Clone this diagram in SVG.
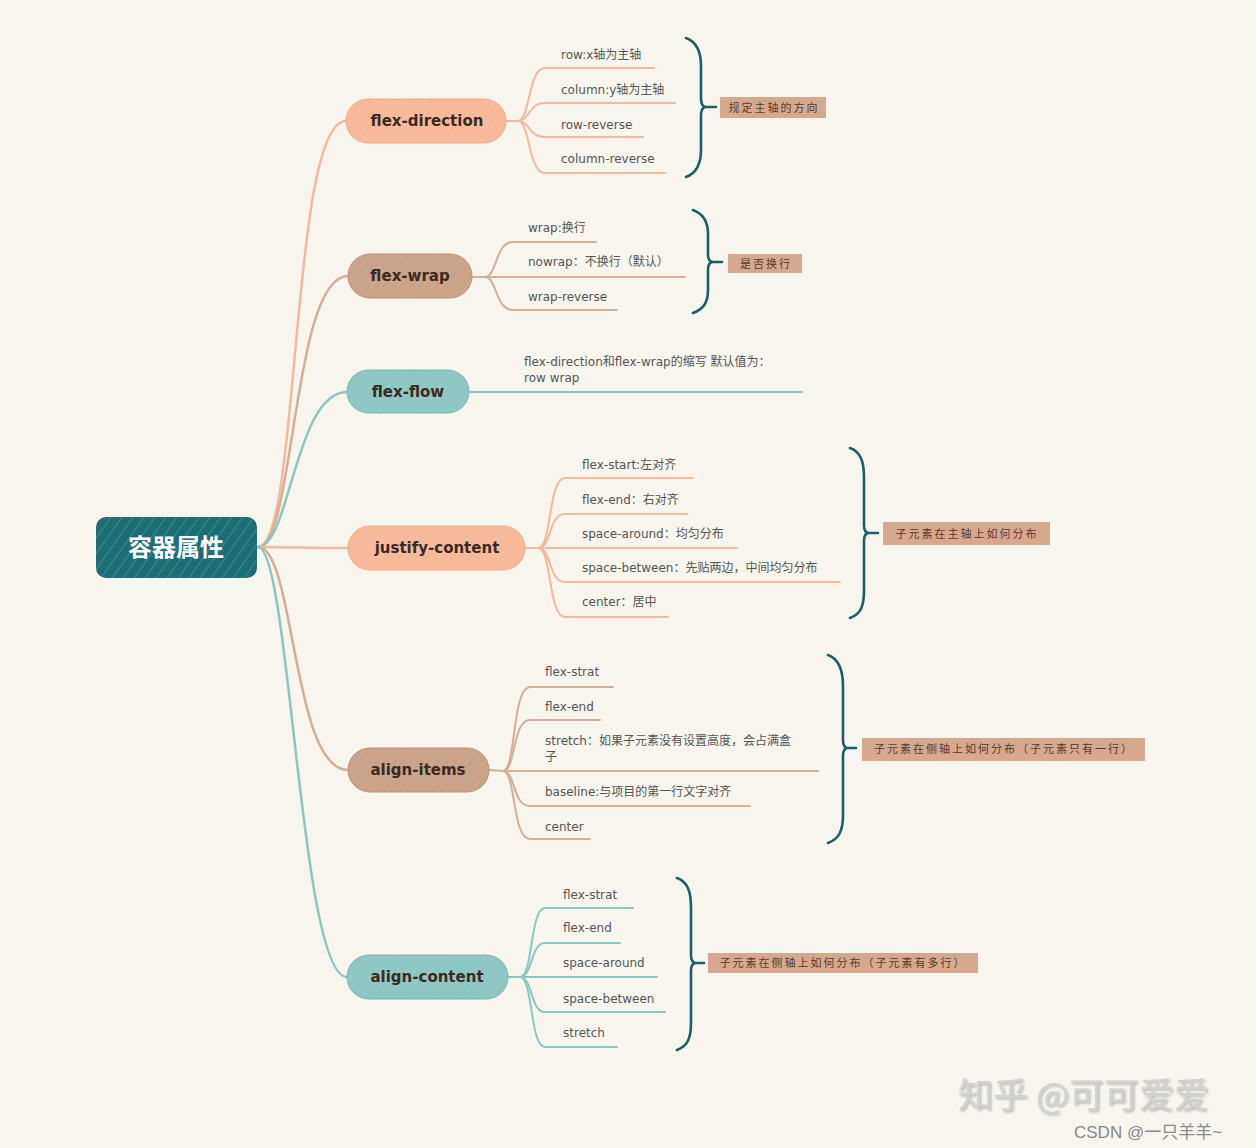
<svg xmlns="http://www.w3.org/2000/svg" width="1256" height="1148" viewBox="0 0 1256 1148">
<defs>
<style>
.bg{fill:#f7f5ee}
.salmon{stroke:#f4b89d}
.tan{stroke:#d5ae96}
.teal{stroke:#8cc6c2}
.conn{fill:none;stroke-width:2.5;stroke-linecap:round}
.leaf{fill:none;stroke-width:2;stroke-linecap:round}
.brace{fill:none;stroke:#1d5f66;stroke-width:2.6;stroke-linecap:round;stroke-linejoin:round}
.ntext{font-family:"DejaVu Sans","Liberation Sans",sans-serif;font-weight:bold;font-size:15px;fill:#3b2a22;text-anchor:middle}
.ltext{font-family:"DejaVu Sans","Noto Sans CJK SC",sans-serif;font-size:12px;fill:#555}
.lab{fill:#d6a98f}
.labt{font-family:"Noto Sans CJK SC",sans-serif;font-size:11px;fill:#5a3a2a;text-anchor:middle;letter-spacing:2px}
</style>
<pattern id="hatch" patternUnits="userSpaceOnUse" width="9" height="9" patternTransform="rotate(35)">
<line x1="0" y1="0" x2="0" y2="9" stroke="#4fa3a8" stroke-width="1.6" opacity="0.7"/>
</pattern>
<pattern id="hatchL" patternUnits="userSpaceOnUse" width="7" height="7" patternTransform="rotate(35)">
<line x1="0" y1="0" x2="0" y2="7" stroke="#ffffff" stroke-width="1" opacity="0.18"/>
</pattern>
<filter id="shadow" x="-5%" y="-20%" width="110%" height="140%">
<feDropShadow dx="1.5" dy="1.5" stdDeviation="1" flood-color="#8a8a8a" flood-opacity="0.6"/>
</filter>
</defs>
<rect class="bg" x="0" y="0" width="1256" height="1148"/>

<g id="connectors">
<path class="conn salmon" d="M258,547 C300,547 290,121 346,121"/>
<path class="conn tan" d="M258,547 C295,547 292,276 348,276"/>
<path class="conn teal" d="M258,547 C290,547 295,392 347,392"/>
<path class="conn salmon" d="M258,547 C300,547 300,548 348,548"/>
<path class="conn tan" d="M258,547 C295,547 292,770 348,770"/>
<path class="conn teal" d="M258,547 C290,547 300,977 347,977"/>

<path class="leaf salmon" d="M506,121 L518,121 C530,121 528,68 545,68 L654,68"/>
<path class="leaf salmon" d="M518,121 C530,121 528,103 545,103 L675,103"/>
<path class="leaf salmon" d="M518,121 C530,121 528,137 545,137 L643,137"/>
<path class="leaf salmon" d="M518,121 C530,121 528,173 545,173 L665,173"/>

<path class="leaf tan" d="M472,277 L485,277 C497,277 495,242 513,242 L596,242"/>
<path class="leaf tan" d="M485,277 L685,277"/>
<path class="leaf tan" d="M485,277 C497,277 495,310 513,310 L617,310"/>

<path class="leaf teal" d="M469,392 L802,392"/>

<path class="leaf salmon" d="M525,548 L538,548 C552,548 548,478 565,478 L693,478"/>
<path class="leaf salmon" d="M538,548 C552,548 548,514 565,514 L687,514"/>
<path class="leaf salmon" d="M538,548 L737,548"/>
<path class="leaf salmon" d="M538,548 C552,548 548,582 565,582 L840,582"/>
<path class="leaf salmon" d="M538,548 C552,548 548,617 565,617 L668,617"/>

<path class="leaf tan" d="M489,770 L503,771 C516,771 512,687 530,687 L613,687"/>
<path class="leaf tan" d="M503,771 C516,771 512,720 530,720 L600,720"/>
<path class="leaf tan" d="M503,771 L818,771"/>
<path class="leaf tan" d="M503,771 C516,771 512,806 530,806 L750,806"/>
<path class="leaf tan" d="M503,771 C516,771 512,839 530,839 L590,839"/>

<path class="leaf teal" d="M508,977 L520,977 C533,977 530,908 545,908 L633,908"/>
<path class="leaf teal" d="M520,977 C533,977 530,943 545,943 L620,943"/>
<path class="leaf teal" d="M520,977 L657,977"/>
<path class="leaf teal" d="M520,977 C533,977 530,1012 545,1012 L665,1012"/>
<path class="leaf teal" d="M520,977 C533,977 530,1047 545,1047 L617,1047"/>

<path class="brace" d="M686,38 C697,42 701,52 701,66 L701,98 Q701,107 706,107 Q701,107 701,116 L701,150 C701,164 697,173 686,177 M706,107 L716,107"/>
<path class="brace" d="M693,210 C704,214 708,222 708,234 L708,254 Q708,262 713,262 Q708,262 708,270 L708,290 C708,302 704,309 693,313 M713,262 L722,262"/>
<path class="brace" d="M850,448 C861,452 864,462 864,478 L864,525 Q864,533 869,533 Q864,533 864,541 L864,590 C864,606 861,614 850,618 M869,533 L878,533"/>
<path class="brace" d="M828,655 C839,659 843,670 843,686 L843,740 Q843,748 848,748 Q843,748 843,756 L843,815 C843,831 839,839 828,843 M848,748 L856,748"/>
<path class="brace" d="M677,878 C688,882 691,892 691,908 L691,955 Q691,963 696,963 Q691,963 691,971 L691,1022 C691,1038 688,1046 677,1050 M696,963 L704,963"/>
</g>

<g id="root">
<rect x="96" y="517" width="161" height="61" rx="10" fill="#1d6d75"/>
<rect x="96" y="517" width="161" height="61" rx="10" fill="url(#hatch)"/>
<text x="176" y="556" font-family="'Noto Sans CJK SC',sans-serif" font-weight="bold" font-size="24" fill="#ffffff" text-anchor="middle">容器属性</text>
</g>

<g id="flex-direction">
<rect x="346" y="99" width="160" height="44" rx="22" fill="#f8b99b" stroke="#f0a987" stroke-width="1"/>
<rect x="346" y="99" width="160" height="44" rx="22" fill="url(#hatchL)"/>
<text class="ntext" x="427" y="126">flex-direction</text>
</g>
<g id="flex-direction-leaves">
<text class="ltext" x="561" y="59">row:x轴为主轴</text>
<text class="ltext" x="561" y="94">column:y轴为主轴</text>
<text class="ltext" x="561" y="129">row-reverse</text>
<text class="ltext" x="561" y="163">column-reverse</text>
</g>
<g id="flex-direction-summary">
<rect class="lab" x="720" y="97" width="106" height="21"/>
<text class="labt" x="774" y="112">规定主轴的方向</text>
</g>

<g id="flex-wrap">
<rect x="348" y="254" width="124" height="44" rx="22" fill="#caa28a" stroke="#b99079" stroke-width="1"/>
<rect x="348" y="254" width="124" height="44" rx="22" fill="url(#hatchL)"/>
<text class="ntext" x="410" y="281">flex-wrap</text>
</g>
<g id="flex-wrap-leaves">
<text class="ltext" x="528" y="232">wrap:换行</text>
<text class="ltext" x="528" y="266">nowrap：不换行（默认）</text>
<text class="ltext" x="528" y="301">wrap-reverse</text>
</g>
<g id="flex-wrap-summary">
<rect class="lab" x="728" y="254" width="74" height="19"/>
<text class="labt" x="766" y="268">是否换行</text>
</g>

<g id="flex-flow">
<rect x="347" y="370" width="122" height="43" rx="21.5" fill="#8dc6c2" stroke="#78b5b1" stroke-width="1"/>
<rect x="347" y="370" width="122" height="43" rx="21.5" fill="url(#hatchL)"/>
<text class="ntext" x="408" y="397">flex-flow</text>
</g>
<g id="flex-flow-leaf">
<text class="ltext" x="524" y="366">flex-direction和flex-wrap的缩写  默认值为：</text>
<text class="ltext" x="524" y="382">row wrap</text>
</g>

<g id="justify-content">
<rect x="348" y="526" width="177" height="44" rx="22" fill="#f8b99b" stroke="#f0a987" stroke-width="1"/>
<rect x="348" y="526" width="177" height="44" rx="22" fill="url(#hatchL)"/>
<text class="ntext" x="437" y="553">justify-content</text>
</g>
<g id="justify-content-leaves">
<text class="ltext" x="582" y="469">flex-start:左对齐</text>
<text class="ltext" x="582" y="504">flex-end：右对齐</text>
<text class="ltext" x="582" y="538">space-around：均匀分布</text>
<text class="ltext" x="582" y="572">space-between：先贴两边，中间均匀分布</text>
<text class="ltext" x="582" y="606">center：居中</text>
</g>
<g id="justify-content-summary">
<rect class="lab" x="883" y="522" width="167" height="23"/>
<text class="labt" x="967" y="538">子元素在主轴上如何分布</text>
</g>

<g id="align-items">
<rect x="348" y="748" width="141" height="44" rx="22" fill="#caa28a" stroke="#b99079" stroke-width="1"/>
<rect x="348" y="748" width="141" height="44" rx="22" fill="url(#hatchL)"/>
<text class="ntext" x="418" y="775">align-items</text>
</g>
<g id="align-items-leaves">
<text class="ltext" x="545" y="676">flex-strat</text>
<text class="ltext" x="545" y="711">flex-end</text>
<text class="ltext" x="545" y="745">stretch：如果子元素没有设置高度，会占满盒</text>
<text class="ltext" x="545" y="761">子</text>
<text class="ltext" x="545" y="796">baseline:与项目的第一行文字对齐</text>
<text class="ltext" x="545" y="831">center</text>
</g>
<g id="align-items-summary">
<rect class="lab" x="862" y="738" width="283" height="23"/>
<text class="labt" x="1004" y="753">子元素在侧轴上如何分布（子元素只有一行）</text>
</g>

<g id="align-content">
<rect x="347" y="955" width="161" height="44" rx="22" fill="#8dc6c2" stroke="#78b5b1" stroke-width="1"/>
<rect x="347" y="955" width="161" height="44" rx="22" fill="url(#hatchL)"/>
<text class="ntext" x="427" y="982">align-content</text>
</g>
<g id="align-content-leaves">
<text class="ltext" x="563" y="899">flex-strat</text>
<text class="ltext" x="563" y="932">flex-end</text>
<text class="ltext" x="563" y="967">space-around</text>
<text class="ltext" x="563" y="1003">space-between</text>
<text class="ltext" x="563" y="1037">stretch</text>
</g>
<g id="align-content-summary">
<rect class="lab" x="708" y="953" width="270" height="20"/>
<text class="labt" x="843" y="967">子元素在侧轴上如何分布（子元素有多行）</text>
</g>

<g id="watermark">
<text x="958" y="1108" font-family="'Noto Sans CJK SC',sans-serif" font-size="35" fill="#d2d2d0" filter="url(#shadow)">知乎 @可可爱爱</text>
<text x="1074" y="1138" font-family="'Liberation Sans','Noto Sans CJK SC',sans-serif" font-size="17" fill="#8a8a8a">CSDN @一只羊羊~</text>
</g>
</svg>
